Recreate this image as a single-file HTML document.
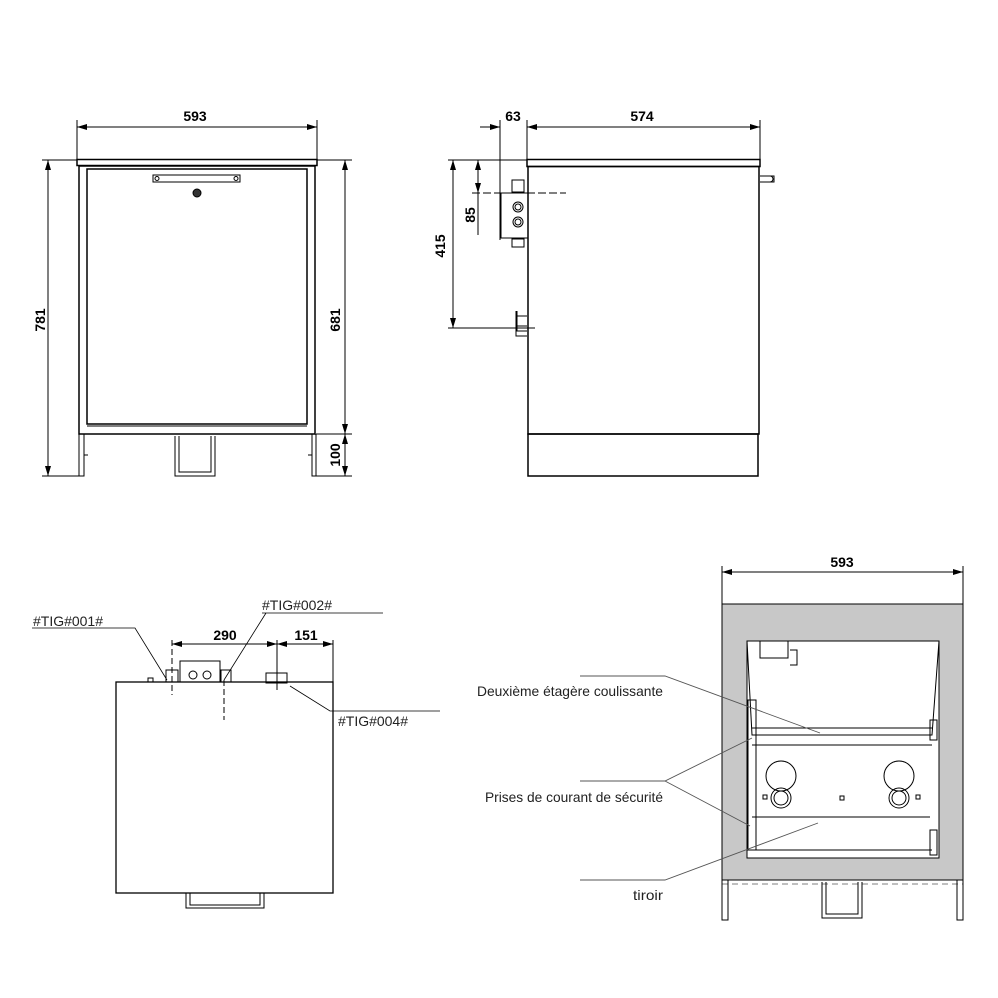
<!DOCTYPE html>
<html><head><meta charset="utf-8"><style>body{margin:0;background:#fff}svg{display:block}</style></head><body>
<svg width="998" height="998" viewBox="0 0 998 998" xmlns="http://www.w3.org/2000/svg" font-family="Liberation Sans, sans-serif">
<defs><marker id="a" viewBox="0 0 10 6" refX="10" refY="3" markerWidth="10" markerHeight="6" orient="auto-start-reverse" markerUnits="userSpaceOnUse"><path d="M0,0L10,3L0,6z" fill="#000"/></marker></defs>
<g stroke="#000" stroke-width="1" fill="none">
<!-- FRONT VIEW -->
<line x1="77" y1="120" x2="77" y2="160"/><line x1="317" y1="120" x2="317" y2="160"/>
<line x1="77" y1="127" x2="317" y2="127" marker-start="url(#a)" marker-end="url(#a)"/>
<line x1="42" y1="160" x2="77" y2="160"/><line x1="42" y1="476" x2="80" y2="476"/>
<line x1="48" y1="160" x2="48" y2="476" marker-start="url(#a)" marker-end="url(#a)"/>
<line x1="317" y1="160" x2="352" y2="160"/><line x1="316" y1="434" x2="352" y2="434"/><line x1="316" y1="476" x2="352" y2="476"/>
<line x1="345" y1="160" x2="345" y2="434" marker-start="url(#a)" marker-end="url(#a)"/>
<line x1="345" y1="434" x2="345" y2="476" marker-start="url(#a)" marker-end="url(#a)"/>
<rect x="77" y="159.5" width="240" height="6" stroke-width="1.5"/>
<rect x="79" y="166" width="236" height="268" stroke-width="1.5"/>
<rect x="87" y="169" width="220" height="255" stroke-width="1.5"/>
<line x1="87" y1="426" x2="307" y2="426"/>
<rect x="153" y="175" width="87" height="7"/>
<circle cx="157" cy="178.5" r="2"/><circle cx="236" cy="178.5" r="2"/>
<circle cx="197" cy="193" r="4" fill="#333"/>
<path d="M79,434V476H84V434M312,434V476H316V434M84,455h4M312,455h-4"/>
<path d="M175,436V476H215V436M179,436V472H211V436M163,434h14M203,434h14"/>
<!-- SIDE VIEW -->
<line x1="500" y1="120" x2="500" y2="240"/><line x1="527" y1="120" x2="527" y2="160"/><line x1="760" y1="120" x2="760" y2="160"/>
<line x1="480" y1="127" x2="500" y2="127" marker-end="url(#a)"/>
<line x1="527" y1="127" x2="760" y2="127" marker-start="url(#a)" marker-end="url(#a)"/>
<line x1="448" y1="160" x2="527" y2="160"/><line x1="448" y1="328" x2="535" y2="328" />
<line x1="453" y1="160" x2="453" y2="328" marker-start="url(#a)" marker-end="url(#a)"/>
<line x1="478" y1="160" x2="478" y2="193" marker-start="url(#a)" marker-end="url(#a)"/>
<line x1="478" y1="193" x2="478" y2="235"/>
<line x1="472" y1="193" x2="566" y2="193" stroke-dasharray="8,3"/>
<rect x="527" y="159.5" width="233" height="7" stroke-width="1.5"/>
<rect x="528" y="166.5" width="231" height="267.5" stroke-width="1.5"/>
<rect x="528" y="434" width="230" height="42" stroke-width="1.5"/>
<path d="M760,176h14v6h-14M770,176a3,3 0 0 1 0,6"/>
<rect x="501" y="193" width="27" height="45"/>
<circle cx="518" cy="207" r="5"/><circle cx="518" cy="207" r="3"/>
<circle cx="518" cy="222" r="5"/><circle cx="518" cy="222" r="3"/>
<rect x="512" y="180" width="12" height="12"/><rect x="512" y="239" width="12" height="8"/>
<path d="M517,311v20h10M517,316h10M517,326h10M516,311v25h11"/>
<!-- PLAN VIEW -->
<rect x="116" y="682" width="217" height="211" stroke-width="1.3"/>
<path d="M186,893v15h78v-15M190,893v12h70v-12"/>
<rect x="180" y="661" width="40" height="21"/>
<circle cx="193" cy="675" r="4"/><circle cx="207" cy="675" r="4"/>
<rect x="166" y="670" width="12" height="12"/><rect x="221" y="670" width="10" height="12"/>
<rect x="266" y="673" width="21" height="10"/><rect x="148" y="678" width="5" height="4"/>
<line x1="172" y1="640" x2="172" y2="695" stroke-dasharray="6,3"/>
<line x1="224" y1="680" x2="224" y2="720" stroke-dasharray="6,3"/>
<line x1="277" y1="640" x2="277" y2="690"/>
<line x1="333" y1="640" x2="333" y2="682"/>
<line x1="172" y1="644" x2="277" y2="644" marker-start="url(#a)" marker-end="url(#a)"/>
<line x1="277" y1="644" x2="333" y2="644" marker-start="url(#a)" marker-end="url(#a)"/>
<path d="M32,628H135L167,680M262,613H383M266,613L224,680M290,686L330,711H440" stroke-width="0.8"/>
<!-- BOTTOM RIGHT -->
<line x1="722" y1="566" x2="722" y2="604"/><line x1="963" y1="566" x2="963" y2="604"/>
<line x1="722" y1="572" x2="963" y2="572" marker-start="url(#a)" marker-end="url(#a)"/>
<path d="M722,604H963V880H722Z M747,641V858H939V641Z" fill="#c8c8c8" fill-rule="evenodd" stroke="#000"/>
<path d="M747,641H939L932,735H752Z" />
<line x1="752" y1="728" x2="932" y2="728"/>
<line x1="752" y1="745" x2="932" y2="745"/>
<line x1="752" y1="817" x2="930" y2="817"/>
<line x1="752" y1="850" x2="932" y2="850"/>
<path d="M760,641v17h28v-17M790,650h7v15h-7" />
<circle cx="781" cy="776" r="15"/><circle cx="781" cy="798" r="10"/><circle cx="781" cy="798" r="7"/>
<circle cx="899" cy="776" r="15"/><circle cx="899" cy="798" r="10"/><circle cx="899" cy="798" r="7"/>
<rect x="763" y="795" width="4" height="4"/><rect x="916" y="795" width="4" height="4"/><rect x="840" y="796" width="4" height="4"/>
<rect x="748" y="700" width="8" height="150"/><rect x="930" y="720" width="7" height="20"/><rect x="930" y="830" width="7" height="25"/>
<path d="M722,880V920H728V880M957,880V920H963V880M822,882V918H862V882M826,882V914H858V882"/>
<line x1="722" y1="884" x2="963" y2="884" stroke-dasharray="6,4" stroke-width="0.6"/>
<path d="M580,676H665L820,733M580,781H665L752,738M665,781L750,826M580,880H665L818,823" stroke="#555" stroke-width="0.9"/>
</g>
<g fill="#000" font-weight="bold" font-size="14">
<text x="195" y="121" text-anchor="middle">593</text>
<text x="513" y="121" text-anchor="middle">63</text>
<text x="642" y="121" text-anchor="middle">574</text>
<text x="842" y="567" text-anchor="middle">593</text>
<text x="225" y="640" text-anchor="middle">290</text>
<text x="306" y="640" text-anchor="middle">151</text>
<text transform="translate(45,320) rotate(-90)" text-anchor="middle">781</text>
<text transform="translate(340,320) rotate(-90)" text-anchor="middle">681</text>
<text transform="translate(340,455) rotate(-90)" text-anchor="middle">100</text>
<text transform="translate(445,246) rotate(-90)" text-anchor="middle">415</text>
<text transform="translate(475,215) rotate(-90)" text-anchor="middle">85</text>
</g>
<g fill="#222" font-size="14">
<text x="33" y="626" textLength="70" lengthAdjust="spacingAndGlyphs">#TIG#001#</text>
<text x="262" y="610" textLength="70" lengthAdjust="spacingAndGlyphs">#TIG#002#</text>
<text x="338" y="726" textLength="70" lengthAdjust="spacingAndGlyphs">#TIG#004#</text>
<text x="477" y="696" textLength="186" lengthAdjust="spacingAndGlyphs">Deuxième étagère coulissante</text>
<text x="485" y="802" textLength="178" lengthAdjust="spacingAndGlyphs">Prises de courant de sécurité</text>
<text x="633" y="900" textLength="30" lengthAdjust="spacingAndGlyphs">tiroir</text>
</g>
</svg>
</body></html>
